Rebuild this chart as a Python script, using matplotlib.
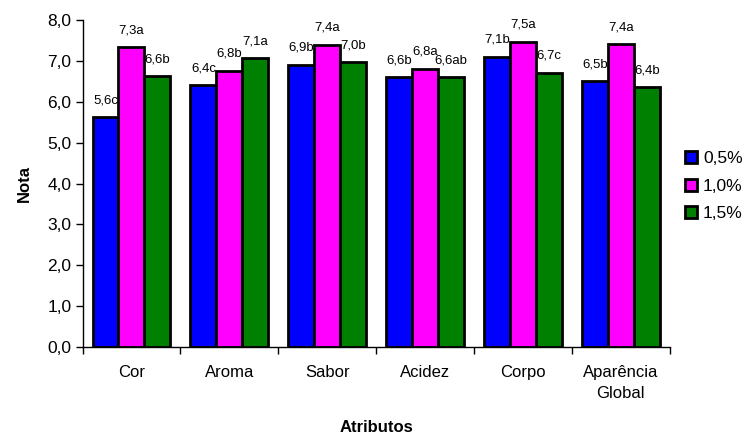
import matplotlib
matplotlib.use('Agg')
import matplotlib.pyplot as plt
import numpy as np

plt.rcParams['font.family'] = ['Liberation Sans', 'DejaVu Sans']

atributos = ['Cor', 'Aroma', 'Sabor', 'Acidez', 'Corpo', 'Aparência\nGlobal']
series = ['0,5%', '1,0%', '1,5%']
v05 = [5.62, 6.40, 6.91, 6.60, 7.10, 6.51]
v10 = [7.34, 6.76, 7.40, 6.81, 7.47, 7.41]
v15 = [6.63, 7.06, 6.97, 6.60, 6.71, 6.36]
lab05 = ['5,6c', '6,4c', '6,9b', '6,6b', '7,1b', '6,5b']
lab10 = ['7,3a', '6,8b', '7,4a', '6,8a', '7,5a', '7,4a']
lab15 = ['6,6b', '7,1a', '7,0b', '6,6ab', '6,7c', '6,4b']
cores = ['#0000ff', '#ff00ff', '#008000']

fig = plt.figure(figsize=(7.5, 4.36), dpi=100)
ax = fig.add_axes([0.110, 0.204, 0.783, 0.750])

x = np.arange(len(atributos))
w = 0.265
for i, (vals, labs) in enumerate(zip([v05, v10, v15], [lab05, lab10, lab15])):
    pos = x + (i - 1) * w
    ax.bar(pos, vals, w, color=cores[i], edgecolor='black', linewidth=2,
           label=series[i], zorder=2)
    for px, v, t in zip(pos, vals, labs):
        ax.annotate(t, (px, v), xytext=(0, 10), textcoords='offset points',
                    ha='center', va='baseline', fontsize=9.5)

ax.set_xlim(-0.5, len(atributos) - 0.5)
ax.set_ylim(0, 8)
yt = np.arange(0, 8.01, 1)
ax.set_yticks(yt)
ax.set_yticklabels([f'{t:.1f}'.replace('.', ',') for t in yt], fontsize=12.5)
ax.set_xticks(x)
ax.set_xticklabels(atributos, fontsize=12, linespacing=1.45)
ax.tick_params(axis='x', length=0, pad=13)
ax.set_xticks(np.arange(-0.5, len(atributos), 1), minor=True)
ax.tick_params(axis='x', which='minor', length=5, width=1, direction='out')
ax.tick_params(axis='y', length=5, width=1, direction='out', pad=3)

for s in ['top', 'right']:
    ax.spines[s].set_visible(False)
for s in ['left', 'bottom']:
    ax.spines[s].set_linewidth(1)

ax.set_ylabel('Nota', fontsize=12, fontweight='bold', labelpad=11)
ax.set_xlabel('Atributos', fontsize=12, fontweight='bold', labelpad=14)

ax.legend(loc='center left', bbox_to_anchor=(0.913, 0.573), bbox_transform=fig.transFigure,
          frameon=False, fontsize=12.5, handlelength=0.7, handleheight=0.7,
          handletextpad=0.35, labelspacing=0.7, borderaxespad=0, borderpad=0)

fig.savefig('out.png', dpi=100)
